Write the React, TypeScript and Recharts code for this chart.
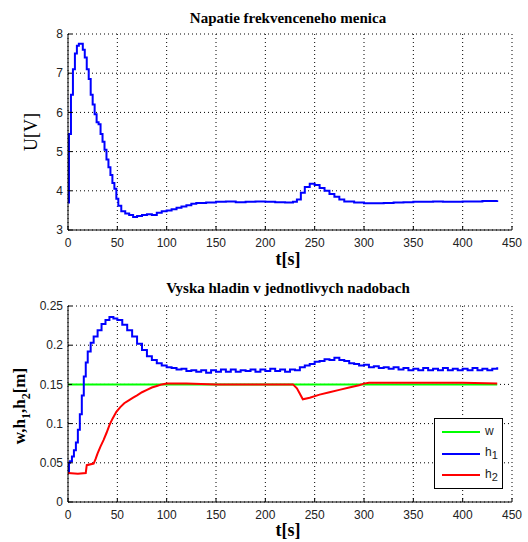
import React from "react"
import { LineChart, Line, XAxis, YAxis, CartesianGrid } from "recharts"

// time axis ticks (both plots)
const T_TICKS = [0, 50, 100, 150, 200, 250, 300, 350, 400, 450]
const U_TICKS = [3, 4, 5, 6, 7, 8]
const H_TICKS = [0, 0.05, 0.1, 0.15, 0.2, 0.25]

// frequency converter voltage U [V]
const uTime = [0, 1, 3, 5, 7, 9, 11, 13, 15, 17, 19, 21, 23, 25, 27, 29, 31, 33, 35, 37, 39, 41, 43, 45, 47, 49, 51, 54, 58, 62, 66, 70, 75, 80, 85, 90, 95, 100, 105, 110, 115, 120, 125, 130, 140, 150, 160, 170, 180, 190, 200, 210, 220, 228, 232, 236, 240, 245, 250, 255, 260, 265, 270, 275, 280, 290, 300, 310, 320, 330, 340, 350, 360, 370, 380, 390, 400, 410, 420, 430, 435]
const uVolt = [3.7, 5.45, 6.45, 7.1, 7.5, 7.7, 7.75, 7.75, 7.6, 7.4, 7.1, 6.85, 6.45, 6.2, 5.95, 5.75, 5.7, 5.45, 5.25, 5.05, 4.8, 4.6, 4.4, 4.2, 4.05, 3.8, 3.62, 3.48, 3.42, 3.38, 3.33, 3.36, 3.38, 3.4, 3.38, 3.44, 3.48, 3.5, 3.53, 3.57, 3.6, 3.63, 3.67, 3.69, 3.7, 3.72, 3.73, 3.71, 3.72, 3.73, 3.72, 3.71, 3.7, 3.72, 3.78, 3.95, 4.1, 4.18, 4.15, 4.07, 4.0, 3.92, 3.85, 3.78, 3.73, 3.7, 3.68, 3.68, 3.69, 3.7, 3.71, 3.72, 3.72, 3.73, 3.72, 3.72, 3.73, 3.73, 3.74, 3.74, 3.76]

// set point w
const wTime = [0, 435]
const wLevel = [0.15, 0.15]

// level h1
const h1Time = [0, 1, 2, 4, 6, 8, 10, 12, 14, 16, 18, 20, 23, 26, 30, 34, 38, 42, 46, 50, 55, 60, 65, 70, 75, 80, 85, 90, 95, 100, 105, 110, 115, 120, 125, 130, 135, 140, 145, 150, 155, 160, 165, 170, 175, 180, 185, 190, 195, 200, 205, 210, 215, 220, 225, 230, 235, 240, 245, 250, 255, 260, 265, 270, 275, 280, 285, 290, 295, 300, 305, 310, 315, 320, 325, 330, 335, 340, 345, 350, 355, 360, 365, 370, 375, 380, 385, 390, 395, 400, 405, 410, 415, 420, 425, 430, 435]
const h1Level = [0.038, 0.05, 0.052, 0.058, 0.066, 0.076, 0.092, 0.112, 0.136, 0.16, 0.178, 0.192, 0.203, 0.211, 0.219, 0.227, 0.232, 0.236, 0.234, 0.232, 0.226, 0.219, 0.211, 0.202, 0.194, 0.186, 0.181, 0.177, 0.174, 0.172, 0.171, 0.169, 0.17, 0.167, 0.168, 0.166, 0.168, 0.165, 0.168, 0.166, 0.169, 0.166, 0.169, 0.166, 0.168, 0.167, 0.169, 0.166, 0.169, 0.167, 0.17, 0.167, 0.169, 0.166, 0.169, 0.168, 0.172, 0.174, 0.176, 0.179, 0.18, 0.182, 0.181, 0.184, 0.181, 0.18, 0.177, 0.176, 0.174, 0.175, 0.172, 0.173, 0.171, 0.172, 0.17, 0.172, 0.169, 0.171, 0.168, 0.17, 0.168, 0.171, 0.168, 0.17, 0.168, 0.171, 0.168, 0.17, 0.168, 0.17, 0.168, 0.171, 0.168, 0.17, 0.168, 0.17, 0.172]

// level h2
const h2Time = [0, 10, 18, 19, 26, 28, 30, 33, 36, 39, 42, 45, 49, 53, 57, 62, 66, 70, 75, 80, 85, 90, 95, 100, 120, 150, 180, 200, 228, 232, 235, 238, 245, 255, 265, 275, 285, 295, 300, 305, 330, 360, 400, 435]
const h2Level = [0.037, 0.036, 0.037, 0.047, 0.049, 0.055, 0.062, 0.071, 0.079, 0.088, 0.098, 0.106, 0.115, 0.121, 0.126, 0.13, 0.133, 0.136, 0.14, 0.143, 0.146, 0.148, 0.15, 0.151, 0.151, 0.15, 0.15, 0.15, 0.15, 0.145, 0.138, 0.131, 0.133, 0.137, 0.14, 0.143, 0.146, 0.149, 0.151, 0.152, 0.152, 0.152, 0.152, 0.151]

const uData = uTime.map((t, i) => ({ t, v: uVolt[i] }))
const wData = wTime.map((t, i) => ({ t, v: wLevel[i] }))
const h1Data = h1Time.map((t, i) => ({ t, v: h1Level[i] }))
const h2Data = h2Time.map((t, i) => ({ t, v: h2Level[i] }))

const sans = "'Liberation Sans', Arial, sans-serif"
const serif = "'Liberation Serif', 'Times New Roman', serif"
const tickFont = { fontFamily: sans, fontSize: 12, fill: "#222" }
const margin = { top: 34, right: 16, left: 0, bottom: 0 }

const noLabel = () => <g />

function axes(yDomain: number[], yTicks: number[]) {
  return [
    <CartesianGrid key="g" stroke="#000" strokeDasharray="1 3" xAxisId="b" yAxisId="l" />,
    <XAxis key="xb" xAxisId="b" dataKey="t" type="number" domain={[0, 450]} ticks={T_TICKS} height={20}
      stroke="#000" tickSize={-4} tickMargin={12} tick={tickFont} interval={0} allowDataOverflow />,
    <XAxis key="xt" xAxisId="t" orientation="top" dataKey="t" type="number" domain={[0, 450]} ticks={T_TICKS}
      height={0} stroke="#000" tickSize={-4} tick={noLabel} interval={0} />,
    <YAxis key="yl" yAxisId="l" type="number" domain={yDomain} ticks={yTicks} width={68} stroke="#000"
      tickSize={-4} tickMargin={9} tick={tickFont} interval={0} allowDataOverflow />,
    <YAxis key="yr" yAxisId="r" orientation="right" type="number" domain={yDomain} ticks={yTicks} width={0}
      stroke="#000" tickSize={-4} tick={noLabel} interval={0} />,
  ]
}

const abs = (x: number, y: number): React.CSSProperties => ({ position: "absolute", left: x, top: y })
const title: React.CSSProperties = { width: 576, textAlign: "center", fontFamily: serif, fontWeight: "bold", fontSize: 15 }
const xLabel: React.CSSProperties = { width: 576, textAlign: "center", fontFamily: serif, fontWeight: "bold", fontSize: 18 }

export default function App() {
  return (
    <div style={{ position: "absolute", left: 0, top: 0, width: 528, height: 542, background: "#fff" }}>
      <div style={{ ...abs(0, 10), ...title }}>Napatie frekvenceneho menica</div>
      <div style={abs(0, 0)}>
        <LineChart width={528} height={250} data={uData} margin={margin}>
          {axes([3, 8], U_TICKS)}
          <Line xAxisId="b" yAxisId="l" dataKey="v" type="stepAfter" stroke="#0000ff" strokeWidth={2}
            dot={false} isAnimationActive={false} />
        </LineChart>
      </div>
      <div style={{ ...abs(31, 132), transform: "translate(-50%, -50%) rotate(-90deg)", fontFamily: serif, fontSize: 18, whiteSpace: "nowrap" }}>
        U[V]
      </div>
      <div style={{ ...abs(0, 249), ...xLabel }}>t[s]</div>

      <div style={{ ...abs(0, 280), ...title }}>Vyska hladin v jednotlivych nadobach</div>
      <div style={abs(0, 272)}>
        <LineChart width={528} height={250} margin={margin}>
          {axes([0, 0.25], H_TICKS)}
          <Line xAxisId="b" yAxisId="l" data={wData} dataKey="v" type="linear" stroke="#00ff00" strokeWidth={2}
            dot={false} isAnimationActive={false} />
          <Line xAxisId="b" yAxisId="l" data={h1Data} dataKey="v" type="stepAfter" stroke="#0000ff" strokeWidth={2}
            dot={false} isAnimationActive={false} />
          <Line xAxisId="b" yAxisId="l" data={h2Data} dataKey="v" type="linear" stroke="#ff0000" strokeWidth={2}
            dot={false} isAnimationActive={false} />
        </LineChart>
      </div>
      <div style={{ ...abs(22, 406), transform: "translate(-50%, -50%) rotate(-90deg)", fontFamily: serif, fontWeight: "bold", fontSize: 17, whiteSpace: "nowrap" }}>
        w,h<sub style={{ fontSize: 12 }}>1</sub>,h<sub style={{ fontSize: 12 }}>2</sub>[m]
      </div>
      <div style={{ ...abs(0, 520), ...xLabel }}>t[s]</div>

      <div style={{ ...abs(434, 418), width: 67, height: 69, border: "1px solid #000", background: "#fff",
        fontFamily: sans, fontSize: 12, color: "#222" }}>
        {[["#00ff00", "w", ""], ["#0000ff", "h", "1"], ["#ff0000", "h", "2"]].map(([c, n, s], i) => (
          <div key={i} style={{ position: "absolute", left: 7, top: 4 + i * 21.5, height: 18, display: "flex", alignItems: "center" }}>
            <div style={{ width: 38, height: 2, background: c }} />
            <span style={{ marginLeft: 5 }}>{n}<sub style={{ fontSize: 11 }}>{s}</sub></span>
          </div>
        ))}
      </div>
    </div>
  )
}
